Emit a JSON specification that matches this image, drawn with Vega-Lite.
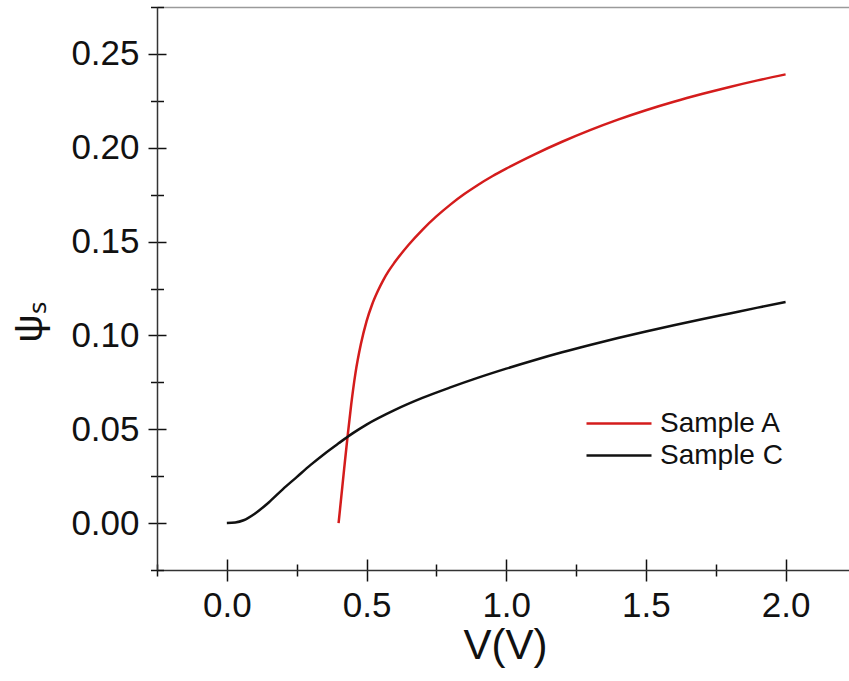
{
  "$schema": "https://vega.github.io/schema/vega-lite/v6.json",
  "width": 692,
  "height": 563,
  "autosize": {"type": "none"},
  "padding": {"left": 157, "top": 7, "right": 0, "bottom": 111},
  "background": "white",
  "config": {"view": {"stroke": null}, "font": "Liberation Sans", "axis": {"grid": false}},
  "data": {"values": [
    {"V": 0.400, "psi": 0.000, "series": "Sample A"},
    {"V": 0.410, "psi": 0.0145, "series": "Sample A"},
    {"V": 0.420, "psi": 0.029, "series": "Sample A"},
    {"V": 0.432, "psi": 0.046, "series": "Sample A"},
    {"V": 0.445, "psi": 0.063, "series": "Sample A"},
    {"V": 0.460, "psi": 0.0795, "series": "Sample A"},
    {"V": 0.480, "psi": 0.0955, "series": "Sample A"},
    {"V": 0.500, "psi": 0.1075, "series": "Sample A"},
    {"V": 0.520, "psi": 0.1165, "series": "Sample A"},
    {"V": 0.540, "psi": 0.1235, "series": "Sample A"},
    {"V": 0.560, "psi": 0.1295, "series": "Sample A"},
    {"V": 0.580, "psi": 0.1345, "series": "Sample A"},
    {"V": 0.600, "psi": 0.1388, "series": "Sample A"},
    {"V": 0.650, "psi": 0.1482, "series": "Sample A"},
    {"V": 0.700, "psi": 0.1563, "series": "Sample A"},
    {"V": 0.750, "psi": 0.1634, "series": "Sample A"},
    {"V": 0.800, "psi": 0.1697, "series": "Sample A"},
    {"V": 0.850, "psi": 0.1753, "series": "Sample A"},
    {"V": 0.900, "psi": 0.1803, "series": "Sample A"},
    {"V": 0.950, "psi": 0.1848, "series": "Sample A"},
    {"V": 1.000, "psi": 0.1889, "series": "Sample A"},
    {"V": 1.100, "psi": 0.1964, "series": "Sample A"},
    {"V": 1.200, "psi": 0.2032, "series": "Sample A"},
    {"V": 1.300, "psi": 0.2094, "series": "Sample A"},
    {"V": 1.400, "psi": 0.2150, "series": "Sample A"},
    {"V": 1.500, "psi": 0.2200, "series": "Sample A"},
    {"V": 1.600, "psi": 0.2245, "series": "Sample A"},
    {"V": 1.700, "psi": 0.2286, "series": "Sample A"},
    {"V": 1.800, "psi": 0.2324, "series": "Sample A"},
    {"V": 1.900, "psi": 0.2359, "series": "Sample A"},
    {"V": 2.000, "psi": 0.2391, "series": "Sample A"},
    {"V": 0.00, "psi": 0.0000, "series": "Sample C"},
    {"V": 0.03, "psi": 0.0003, "series": "Sample C"},
    {"V": 0.06, "psi": 0.0015, "series": "Sample C"},
    {"V": 0.10, "psi": 0.0050, "series": "Sample C"},
    {"V": 0.15, "psi": 0.0110, "series": "Sample C"},
    {"V": 0.20, "psi": 0.0180, "series": "Sample C"},
    {"V": 0.25, "psi": 0.0245, "series": "Sample C"},
    {"V": 0.30, "psi": 0.0310, "series": "Sample C"},
    {"V": 0.35, "psi": 0.0370, "series": "Sample C"},
    {"V": 0.40, "psi": 0.0425, "series": "Sample C"},
    {"V": 0.45, "psi": 0.0478, "series": "Sample C"},
    {"V": 0.50, "psi": 0.0525, "series": "Sample C"},
    {"V": 0.60, "psi": 0.0602, "series": "Sample C"},
    {"V": 0.70, "psi": 0.0667, "series": "Sample C"},
    {"V": 0.80, "psi": 0.0723, "series": "Sample C"},
    {"V": 0.90, "psi": 0.0775, "series": "Sample C"},
    {"V": 1.00, "psi": 0.0823, "series": "Sample C"},
    {"V": 1.10, "psi": 0.0868, "series": "Sample C"},
    {"V": 1.20, "psi": 0.0910, "series": "Sample C"},
    {"V": 1.30, "psi": 0.0949, "series": "Sample C"},
    {"V": 1.40, "psi": 0.0986, "series": "Sample C"},
    {"V": 1.50, "psi": 0.1021, "series": "Sample C"},
    {"V": 1.60, "psi": 0.1054, "series": "Sample C"},
    {"V": 1.70, "psi": 0.1086, "series": "Sample C"},
    {"V": 1.80, "psi": 0.1117, "series": "Sample C"},
    {"V": 1.90, "psi": 0.1148, "series": "Sample C"},
    {"V": 2.00, "psi": 0.1178, "series": "Sample C"}
  ]},
  "layer": [
    {
      "mark": {"type": "line", "strokeWidth": 2.5, "interpolate": "monotone"},
      "encoding": {
        "x": {"field": "V", "type": "quantitative",
          "scale": {"domain": [-0.25, 2.227], "nice": false, "zero": false},
          "axis": {"orient": "bottom", "values": [0, 0.5, 1, 1.5, 2], "format": ".1f", "offset": -11, "tickSize": 22, "tickWidth": 1.5, "tickColor": "#111", "domain": false, "labelFontSize": 35, "labelColor": "#111", "labelPadding": 7, "labelFont": "Liberation Sans", "title": null}},
        "y": {"field": "psi", "type": "quantitative",
          "scale": {"domain": [-0.025, 0.275], "nice": false, "zero": false},
          "axis": {"orient": "left", "values": [0, 0.05, 0.1, 0.15, 0.2, 0.25], "format": ".2f", "offset": -9, "tickSize": 18, "tickWidth": 1.5, "tickColor": "#111", "domain": false, "labelFontSize": 35, "labelColor": "#111", "labelPadding": 9, "labelFont": "Liberation Sans", "title": null}},
        "color": {"field": "series", "type": "nominal",
          "scale": {"domain": ["Sample A", "Sample C"], "range": ["#d41c1c", "#111111"]},
          "legend": {"orient": "none", "legendX": 467, "legendY": 402, "title": null, "symbolType": "M-4,0H1", "symbolSize": 676, "symbolStrokeWidth": 2.5, "labelFontSize": 28, "labelOffset": 7, "rowPadding": 3, "padding": 0, "labelColor": "#111", "labelFont": "Liberation Sans"}}
      }
    },
    {
      "mark": {"type": "point", "opacity": 0},
      "encoding": {
        "x": {"field": "V", "type": "quantitative",
          "scale": {"domain": [-0.25, 2.227], "nice": false, "zero": false},
          "axis": {"orient": "bottom", "values": [-0.25, 0.25, 0.75, 1.25, 1.75], "offset": -6, "tickSize": 12, "tickWidth": 1.5, "tickColor": "#111", "domain": false, "labels": false, "title": null}},
        "y": {"field": "psi", "type": "quantitative",
          "scale": {"domain": [-0.025, 0.275], "nice": false, "zero": false},
          "axis": {"orient": "left", "values": [-0.025, 0.025, 0.075, 0.125, 0.175, 0.225, 0.275], "offset": -6.5, "tickSize": 13, "tickWidth": 1.5, "tickColor": "#111", "domain": false, "labels": false, "title": null}}
      }
    },
    {
      "mark": {"type": "point", "opacity": 0},
      "encoding": {
        "x": {"field": "V", "type": "quantitative",
          "scale": {"domain": [-0.25, 2.227], "nice": false, "zero": false},
          "axis": {"orient": "bottom", "domain": true, "domainColor": "#333", "domainWidth": 1.5, "ticks": false, "labels": false, "title": "V(V)", "titleFont": "Liberation Sans", "titleFontSize": 42, "titleFontWeight": "normal", "titleColor": "#111", "titleX": 348, "titleY": 88, "titleBaseline": "alphabetic", "titleAlign": "center"}},
        "y": {"field": "psi", "type": "quantitative",
          "scale": {"domain": [-0.025, 0.275], "nice": false, "zero": false},
          "axis": {"orient": "left", "domain": true, "domainColor": "#333", "domainWidth": 1.5, "ticks": false, "labels": false, "title": "ψₛ", "titleFont": "Liberation Sans", "titleFontSize": 40, "titleFontWeight": "normal", "titleColor": "#111", "titleX": -116, "titleY": 315, "titleAngle": -90, "titleBaseline": "alphabetic", "titleAlign": "center"}}
      }
    },
    {
      "mark": {"type": "point", "opacity": 0},
      "encoding": {
        "x": {"field": "V", "type": "quantitative",
          "scale": {"domain": [-0.25, 2.227], "nice": false, "zero": false},
          "axis": {"orient": "top", "domain": true, "domainColor": "#9a9a9a", "domainWidth": 1.5, "ticks": false, "labels": false, "title": null}},
        "y": {"field": "psi", "type": "quantitative",
          "scale": {"domain": [-0.025, 0.275], "nice": false, "zero": false},
          "axis": null}
      }
    }
  ],
  "resolve": {"axis": {"x": "independent", "y": "independent"}}
}
